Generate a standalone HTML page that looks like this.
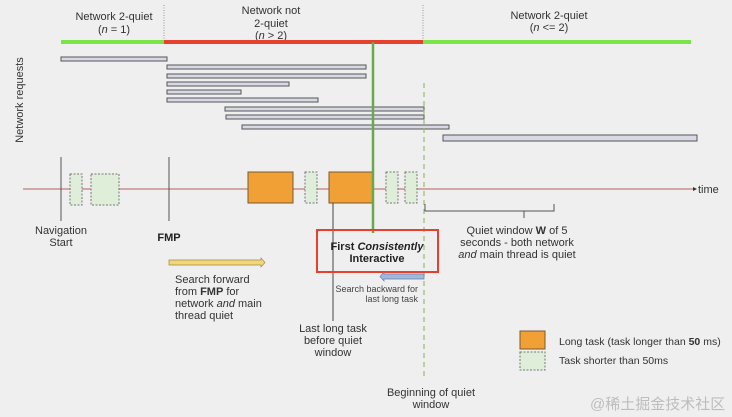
<!DOCTYPE html>
<html><head><meta charset="utf-8"><style>
html,body{margin:0;padding:0;background:#efefef;}
svg{display:block;font-family:"Liberation Sans","Noto Sans CJK SC",sans-serif;}
</style></head><body>
<svg width="732" height="417" viewBox="0 0 732 417" xmlns="http://www.w3.org/2000/svg">
<rect width="732" height="417" fill="#efefef"/>
<g font-size="11" fill="#333" text-anchor="middle">
<text x="114" y="20">Network 2-quiet</text>
<text x="114" y="33">(<tspan font-style="italic">n</tspan> = 1)</text>
<text x="271" y="14">Network not</text>
<text x="271" y="27">2-quiet</text>
<text x="271" y="39">(<tspan font-style="italic">n</tspan> &gt; 2)</text>
<text x="549" y="19">Network 2-quiet</text>
<text x="549" y="31">(<tspan font-style="italic">n</tspan> &lt;= 2)</text>
</g>
<line x1="164" y1="5" x2="164" y2="42" stroke="#999" stroke-dasharray="1,1.5"/>
<line x1="423" y1="5" x2="423" y2="42" stroke="#999" stroke-dasharray="1,1.5"/>
<line x1="61" y1="42" x2="164" y2="42" stroke="#7be34a" stroke-width="4"/>
<line x1="164" y1="42" x2="423" y2="42" stroke="#e8402e" stroke-width="4"/>
<line x1="423" y1="42" x2="691" y2="42" stroke="#7be34a" stroke-width="4"/>
<text transform="translate(23,100) rotate(-90)" font-size="11" fill="#333" text-anchor="middle">Network requests</text>
<g fill="#d9d9e6" stroke="#555" stroke-width="1">
<rect x="61" y="57" width="106" height="4"/>
<rect x="167" y="65" width="199" height="4"/>
<rect x="167" y="74" width="199" height="4"/>
<rect x="167" y="82" width="122" height="4"/>
<rect x="167" y="90" width="74" height="4"/>
<rect x="167" y="98" width="151" height="4"/>
<rect x="225" y="107" width="199" height="4"/>
<rect x="226" y="115" width="198" height="4"/>
<rect x="242" y="125" width="207" height="4"/>
<rect x="443" y="135" width="254" height="6"/>
</g>
<line x1="23" y1="189" x2="693" y2="189" stroke="#b5605a" stroke-width="1"/>
<polygon points="693,187 697,189 693,191" fill="#333"/>
<text x="698" y="193" font-size="11" fill="#333">time</text>
<line x1="61" y1="157" x2="61" y2="221" stroke="#555"/>
<line x1="169" y1="157" x2="169" y2="221" stroke="#555"/>
<g fill="#dfeed8" stroke="#777" stroke-dasharray="2,1.5">
<rect x="70" y="174" width="12" height="31"/>
<rect x="91" y="174" width="28" height="31"/>
<rect x="305" y="172" width="12" height="31"/>
<rect x="386" y="172" width="12" height="31"/>
<rect x="405" y="172" width="12" height="31"/>
</g>
<g fill="#f0a035" stroke="#7a5a30">
<rect x="248" y="172" width="45" height="31"/>
<rect x="329" y="172" width="44" height="31"/>
</g>
<line x1="333" y1="203" x2="333" y2="321" stroke="#444"/>
<line x1="373" y1="42" x2="373" y2="233" stroke="#6aa84f" stroke-width="2.5"/>
<line x1="424" y1="83" x2="424" y2="378" stroke="#9aba6a" stroke-width="1.2" stroke-dasharray="5,4"/>
<path d="M425,204 V211 H554 V204 M524,211 V218" fill="none" stroke="#555"/>
<g font-size="11" fill="#333" text-anchor="middle">
<text x="517" y="234">Quiet window <tspan font-weight="bold">W</tspan> of 5</text>
<text x="517" y="246">seconds - both network</text>
<text x="517" y="258"><tspan font-style="italic">and</tspan> main thread is quiet</text>
<text x="61" y="234">Navigation</text>
<text x="61" y="246">Start</text>
<text x="333" y="332">Last long task</text>
<text x="333" y="344">before quiet</text>
<text x="333" y="356">window</text>
<text x="431" y="396">Beginning of quiet</text>
<text x="431" y="408">window</text>
</g>
<text x="169" y="241" font-size="11" font-weight="bold" fill="#222" text-anchor="middle">FMP</text>
<rect x="317" y="230" width="121" height="42" fill="none" stroke="#e8402e" stroke-width="2"/>
<g font-size="11" font-weight="bold" fill="#222" text-anchor="middle">
<text x="377" y="250">First <tspan font-style="italic">Consistently</tspan></text>
<text x="377" y="262">Interactive</text>
</g>
<polygon points="424,274 384,274 384,272 380,276.5 384,281 384,279 424,279" fill="#9fb8dd" stroke="#6a7fa0" stroke-width="0.7"/>
<g font-size="9" fill="#444" text-anchor="end">
<text x="418" y="292">Search backward for</text>
<text x="418" y="302">last long task</text>
</g>
<polygon points="169,260 261,260 261,258 265,262.5 261,267 261,265 169,265" fill="#f0d87a" stroke="#a08a40" stroke-width="0.7"/>
<g font-size="11" fill="#333">
<text x="175" y="283">Search forward</text>
<text x="175" y="295">from <tspan font-weight="bold">FMP</tspan> for</text>
<text x="175" y="307">network <tspan font-style="italic">and</tspan> main</text>
<text x="175" y="319">thread quiet</text>
</g>
<rect x="520" y="331" width="25" height="18" fill="#f0a035" stroke="#7a5a30"/>
<rect x="520" y="352" width="25" height="18" fill="#dfeed8" stroke="#777" stroke-dasharray="2,1.5"/>
<g font-size="10.5" fill="#333">
<text x="559" y="345">Long task (task longer than <tspan font-weight="bold">50</tspan> ms)</text>
<text x="559" y="364">Task shorter than 50ms</text>
</g>
<text x="590" y="409" font-size="15" fill="#bdbdbd">@稀土掘金技术社区</text>
</svg>
</body></html>
